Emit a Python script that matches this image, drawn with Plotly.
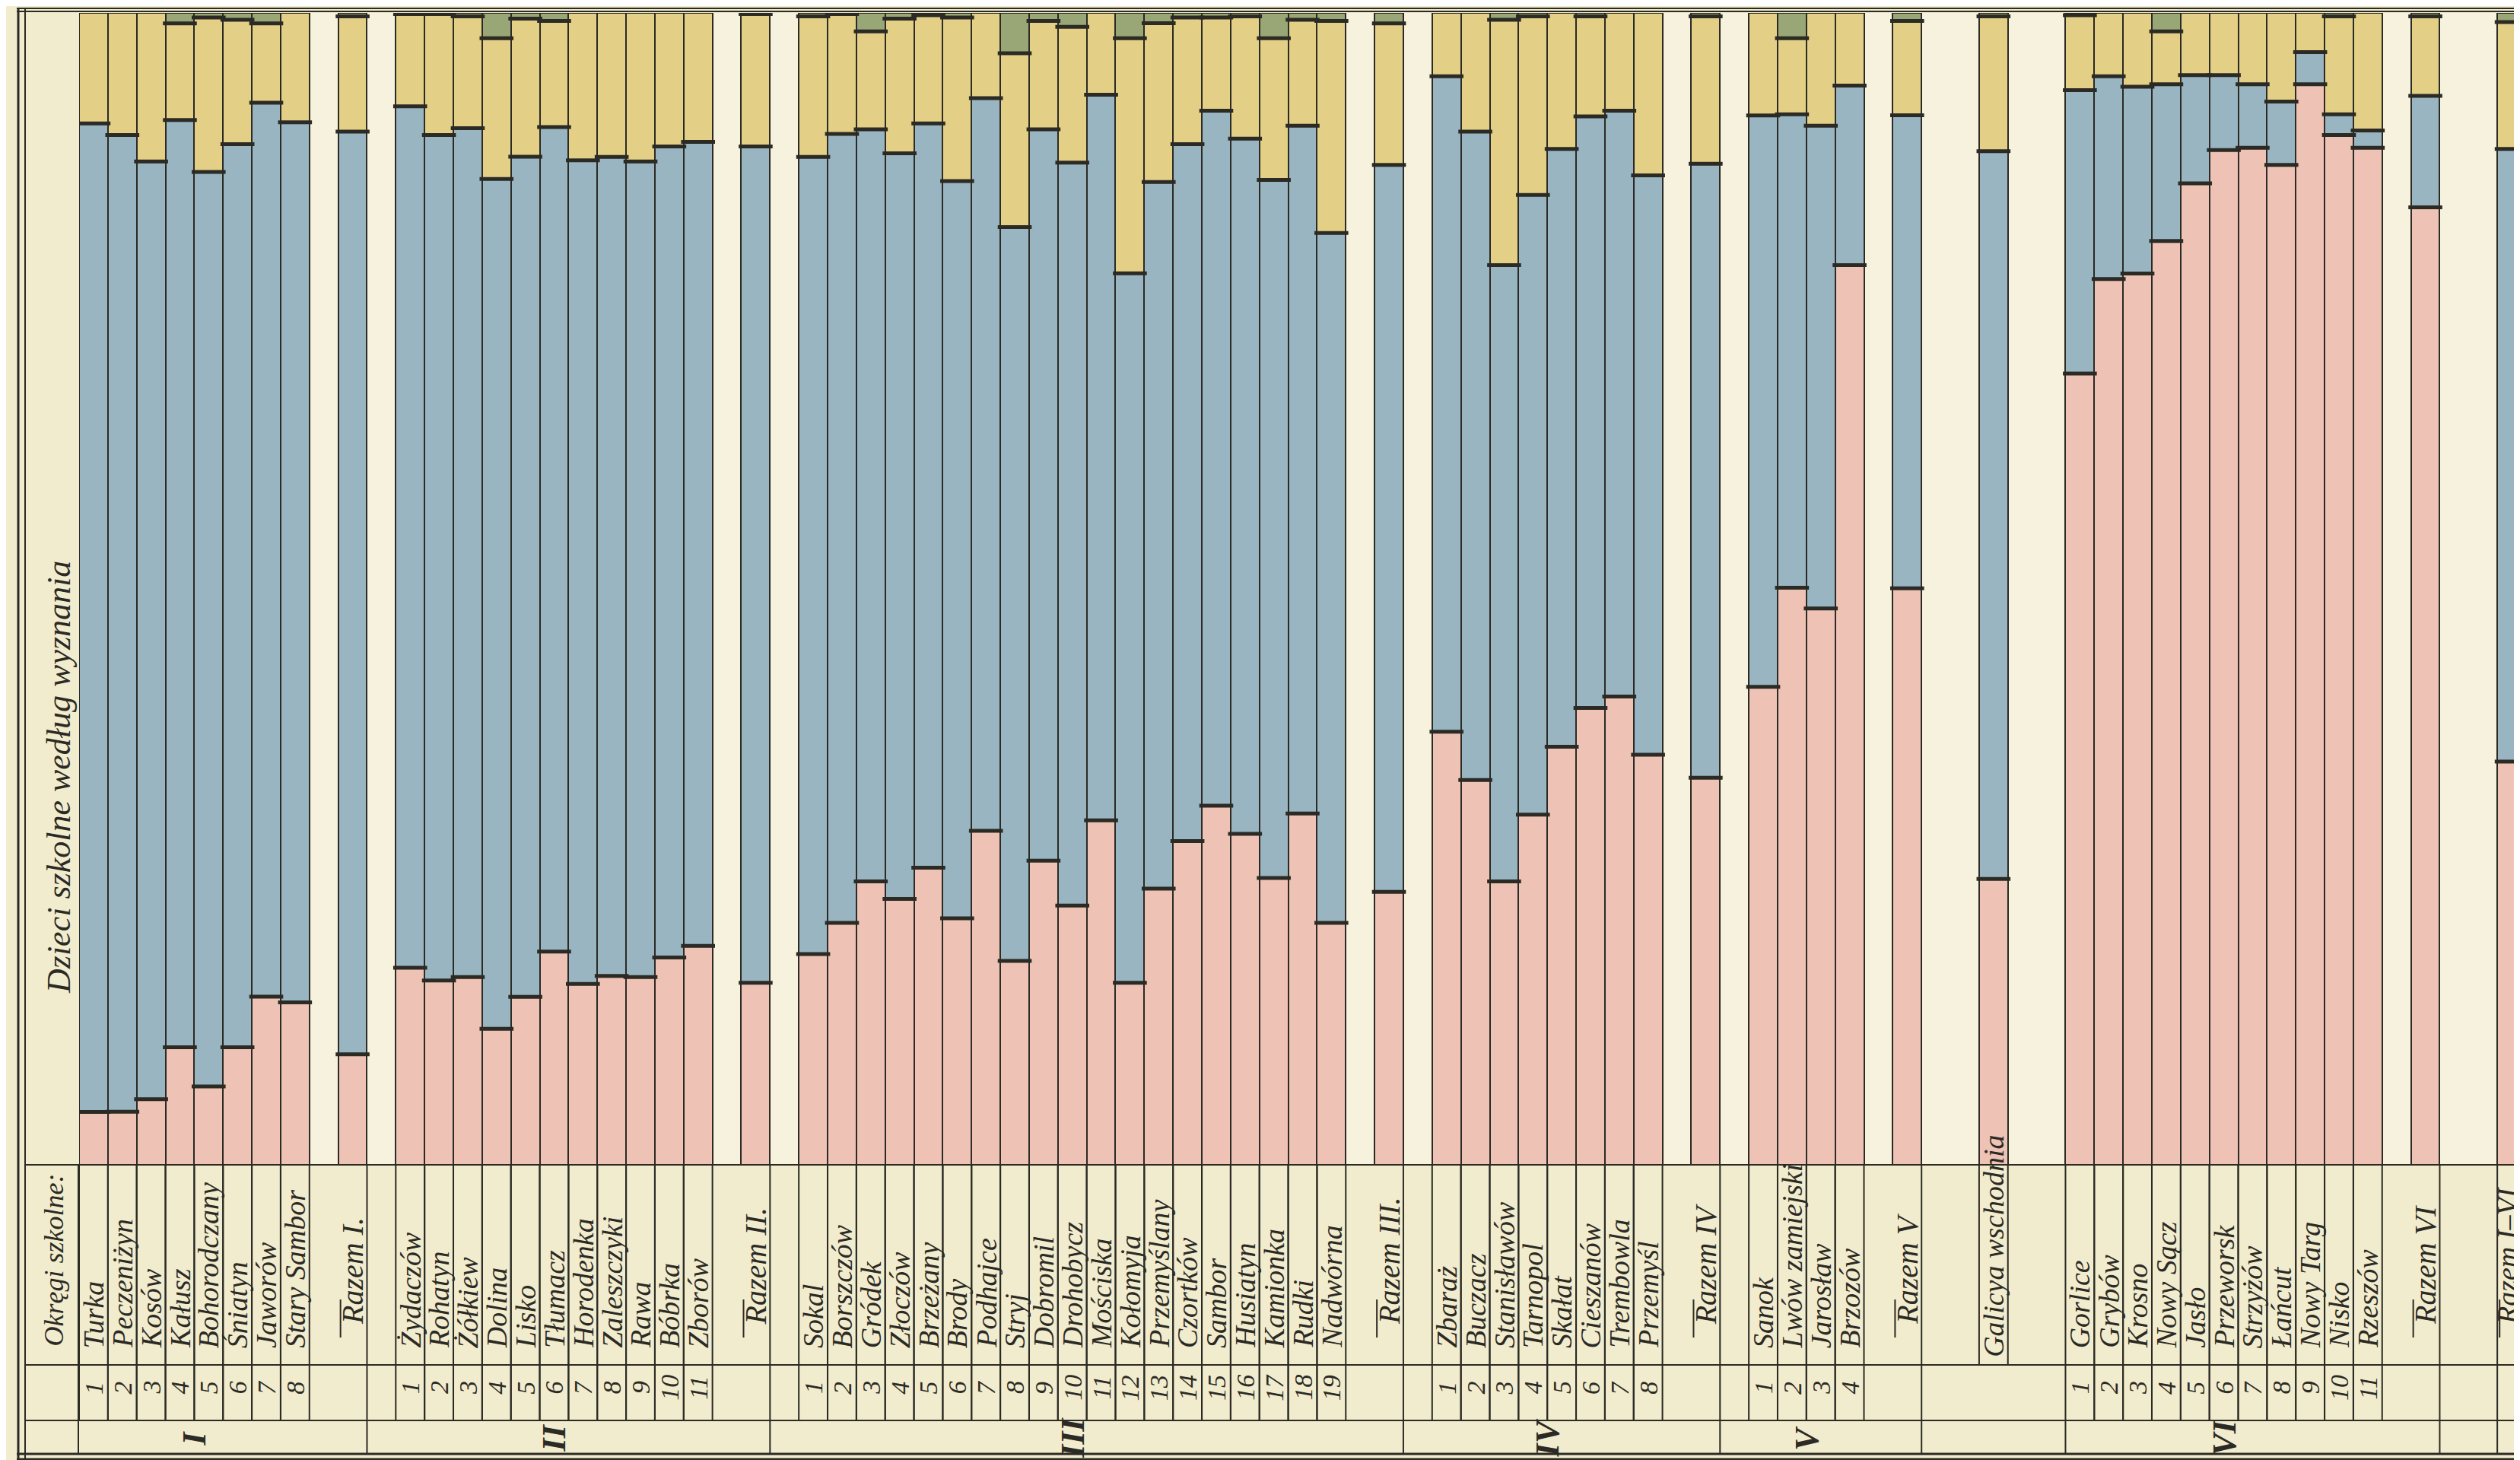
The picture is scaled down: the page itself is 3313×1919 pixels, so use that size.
import plotly.graph_objects as go

# ---------------- categories ----------------
okreg_I = ["Turka", "Peczeniżyn", "Kosów", "Kałusz", "Bohorodczany", "Śniatyn", "Jaworów", "Stary Sambor"]
okreg_II = ["Żydaczów", "Rohatyn", "Żółkiew", "Dolina", "Lisko", "Tłumacz", "Horodenka", "Zaleszczyki",
            "Rawa", "Bóbrka", "Zborów"]
okreg_III = ["Sokal", "Borszczów", "Gródek", "Złoczów", "Brzeżany", "Brody", "Podhajce", "Stryj", "Dobromil",
             "Drohobycz", "Mościska", "Kołomyja", "Przemyślany", "Czortków", "Sambor", "Husiatyn",
             "Kamionka", "Rudki", "Nadwórna"]
okreg_IV = ["Zbaraż", "Buczacz", "Stanisławów", "Tarnopol", "Skałat", "Cieszanów", "Trembowla", "Przemyśl"]
okreg_V = ["Sanok", "Lwów zamiejski", "Jarosław", "Brzozów"]
okreg_VI = ["Gorlice", "Grybów", "Krosno", "Nowy Sącz", "Jasło", "Przeworsk", "Strzyżów", "Łańcut",
            "Nowy Targ", "Nisko", "Rzeszów"]
group_numerals = ["I", "II", "III", "IV", "V", "VI"]
razem_labels = ["Razem I.", "Razem II.", "Razem III.", "Razem IV", "Razem V", "Razem VI"]
galicya_label = "Galicya wschodnia"
razem_all_label = "Razem I–VI"

# ---------------- values (% of school children), in bar order ----------------
# order: I districts, Razem I, II districts, Razem II, ..., V districts, Razem V,
#        Galicya wschodnia, VI districts, Razem VI, Razem I–VI
rzymsko_kat = [4.6, 4.6, 5.7, 10.2, 6.8, 10.2, 14.6, 14.1, 9.6,
               17.1, 16.0, 16.3, 11.8, 14.6, 18.5, 15.7, 16.4, 16.3, 18.0, 19.0, 15.8,
               18.3, 21.0, 24.6, 23.1, 25.8, 21.4, 29.0, 17.7, 26.4, 22.5, 29.9, 15.8, 24.0, 28.1,
               31.2, 28.7, 24.9, 30.5, 21.0, 23.7,
               37.6, 33.4, 24.6, 30.4, 36.3, 39.7, 40.7, 35.6, 33.6,
               41.5, 50.1, 48.3, 78.1, 50.1,
               24.8,
               68.7, 76.9, 77.3, 80.2, 85.2, 88.0, 88.3, 86.9, 93.8, 89.4, 88.3, 83.2,
               35.0]
grecko_kat = [85.9, 84.8, 81.4, 80.5, 79.4, 78.4, 77.6, 76.4, 80.1,
              74.8, 73.4, 73.7, 73.7, 73.0, 71.5, 71.5, 71.1, 70.8, 70.4, 69.8, 72.6,
              69.2, 68.5, 65.3, 64.8, 64.6, 64.0, 63.6, 63.7, 63.5, 64.5, 63.0, 61.6, 61.4, 60.5,
              60.4, 60.3, 60.6, 59.7, 59.9, 63.1,
              56.9, 56.3, 53.5, 53.8, 51.9, 51.4, 50.9, 50.3, 53.3,
              49.6, 41.1, 41.9, 15.6, 41.1,
              63.1,
              24.6, 17.6, 16.2, 13.6, 9.4, 6.5, 5.5, 5.5, 2.8, 1.8, 1.5, 9.7,
              53.2]
mojzeszowe = [9.6, 10.6, 12.9, 8.4, 13.4, 10.8, 6.9, 9.5, 10.0,
              8.0, 10.5, 9.7, 12.2, 12.0, 9.2, 12.8, 12.5, 12.9, 11.6, 11.2, 11.5,
              12.2, 10.4, 8.5, 11.7, 9.4, 14.2, 7.4, 15.1, 9.4, 11.8, 7.1, 20.4, 13.8, 11.0,
              8.1, 10.6, 12.3, 9.2, 18.4, 12.3,
              5.5, 10.3, 21.3, 15.5, 11.8, 8.7, 8.5, 14.1, 12.8,
              8.9, 6.6, 9.8, 6.3, 8.2,
              11.7,
              6.5, 5.5, 6.4, 4.6, 5.4, 5.4, 6.2, 7.7, 3.4, 8.5, 10.2, 6.9,
              11.0]
inne = [0, 0, 0, 0.9, 0.4, 0.6, 0.9, 0, 0.3,
        0.1, 0.1, 0.3, 2.2, 0.5, 0.7, 0, 0, 0, 0, 0, 0.1,
        0.3, 0.1, 1.6, 0.5, 0.2, 0.4, 0, 3.5, 0.7, 1.2, 0, 2.2, 0.9, 0.4,
        0.4, 0.3, 2.2, 0.6, 0.7, 0.9,
        0, 0, 0.6, 0.3, 0, 0.3, 0, 0, 0.3,
        0, 2.2, 0, 0, 0.7,
        0.3,
        0.2, 0, 0, 1.6, 0, 0, 0, 0, 0, 0.3, 0, 0.3,
        0.8]

# ---------------- slot layout ----------------
groups = [okreg_I, okreg_II, okreg_III, okreg_IV, okreg_V, okreg_VI]
bars = []          # (label, slot, kind, number)
group_spans = []   # (numeral, first slot, last slot)
pos = 0
for gi, names in enumerate(groups):
    start = pos
    for i, n in enumerate(names):
        bars.append((n, pos, "district", i + 1))
        pos += 1
    group_spans.append((group_numerals[gi], start, pos - 1))
    pos += 1
    bars.append((razem_labels[gi], pos, "total", None))
    pos += 1
    pos += 2 if gi >= 4 else 1
    if gi == 4:
        bars.append((galicya_label, pos, "galicya", None))
        pos += 3
bars.append((razem_all_label, pos, "total", None))
NSLOT = pos + 1
xs = [b[1] for b in bars]

# normalise each column to 100 %
tot = [a + b + c + d for a, b, c, d in zip(rzymsko_kat, grecko_kat, mojzeszowe, inne)]
pink = [v * 100 / t for v, t in zip(rzymsko_kat, tot)]
blue = [v * 100 / t for v, t in zip(grecko_kat, tot)]
yell = [v * 100 / t for v, t in zip(mojzeszowe, tot)]
gree = [v * 100 / t for v, t in zip(inne, tot)]

# ---------------- figure geometry ----------------
W, H = 3313, 1919
L, T = 96, 9
PW, PH = W - L, 1514
B = H - T - PH
INK = "#2b2a24"
PAPER = "#f2ecce"
PINK, BLUE, YELLOW, GREEN = "#eec2b4", "#99b5c1", "#e3d086", "#98a775"
FONT = "Liberation Serif"
SLOTPX = PW / NSLOT


def px_x(xpx):
    return (xpx - L) / PW


def px_y(ypx):
    return (T + PH - ypx) / PH


def slot_x(s):
    return (s + 0.5) / NSLOT


fig = go.Figure()
for name, vals, col in [("rzymsko-katolickie", pink, PINK), ("grecko-katolickie", blue, BLUE),
                        ("mojżeszowe", yell, YELLOW), ("inne", gree, GREEN)]:
    fig.add_trace(go.Bar(x=xs, y=vals, name=name, width=1.0,
                         marker=dict(color=col, line=dict(color=INK, width=2)),
                         hoverinfo="name+y"))

# thick boundary rules between segments
c1 = pink
c2 = [a + b for a, b in zip(pink, blue)]
c3x = [x for x, g in zip(xs, gree) if g > 0.05]
c3 = [a + b + c for a, b, c, g in zip(pink, blue, yell, gree) if g > 0.05]
for xx, yy in [(xs, c1), (xs, c2), (c3x, c3)]:
    fig.add_trace(go.Scatter(x=xx, y=yy, mode="markers", hoverinfo="skip", showlegend=False,
                             marker=dict(symbol="line-ew", size=SLOTPX - 6,
                                         line=dict(color=INK, width=5))))

shapes = []
ann = []


def hline(y, x0, x1, w=2):
    shapes.append(dict(type="line", xref="paper", yref="paper", x0=x0, x1=x1, y0=px_y(y), y1=px_y(y),
                       line=dict(color=INK, width=w)))


def vline(x, y0, y1, w=2):
    shapes.append(dict(type="line", xref="paper", yref="paper", x0=x, x1=x, y0=px_y(y0), y1=px_y(y1),
                       line=dict(color=INK, width=w)))


Y_BASE, Y_NUM, Y_GRP, Y_BOT = 1523, 1786, 1859, 1903

# frame
hline(3, px_x(14), 1.0, 2)
hline(7, px_x(14), 1.0, 2)
vline(px_x(16), 2, 1912, 3)
vline(px_x(25), 2, 1912, 2)
hline(Y_BOT, px_x(14), 1.0, 3)
hline(Y_BOT + 7, px_x(14), 1.0, 3)
# table rows
hline(Y_BASE, px_x(25), 1.0, 2)
hline(Y_NUM, px_x(25), 1.0, 2)
hline(Y_GRP, px_x(25), 1.0, 2)
vline(px_x(95), Y_BASE, Y_BOT)

for label, s, kind, num in bars:
    if kind == "district":
        vline(slot_x(s) - 0.5 / NSLOT, Y_BASE, Y_GRP)
        vline(slot_x(s) + 0.5 / NSLOT, Y_BASE, Y_GRP)
        ann.append(dict(x=slot_x(s), y=px_y(1766), text="<i>" + label + "</i>", textangle=-90,
                        xanchor="center", yanchor="bottom", showarrow=False,
                        font=dict(family=FONT, size=38, color=INK)))
        ann.append(dict(x=slot_x(s), y=px_y(1816), text="<i>" + str(num) + "</i>", textangle=-90,
                        xanchor="center", yanchor="middle", showarrow=False,
                        font=dict(family=FONT, size=34, color=INK)))
    elif kind == "total":
        vline(slot_x(s) + 0.5 / NSLOT, Y_BASE, Y_BOT)
        xc = slot_x(s)
        if label == razem_all_label:
            vline(slot_x(s) - 0.5 / NSLOT, Y_BASE, Y_BOT)
            xc = px_x(3288)
        # short sum rule beside the label
        vline(slot_x(s) - 0.42 / NSLOT, 1700, 1750)
        ann.append(dict(x=xc, y=px_y(1735), text="<i>" + label + "</i>", textangle=-90,
                        xanchor="center", yanchor="bottom", showarrow=False,
                        font=dict(family=FONT, size=40 if label != razem_all_label else 38, color=INK)))
    else:
        vline(slot_x(s) - 0.5 / NSLOT, Y_BASE, Y_NUM)
        vline(slot_x(s) + 0.5 / NSLOT, Y_BASE, Y_NUM)
        ann.append(dict(x=slot_x(s), y=px_y(1778), text="<i>" + label + "</i>", textangle=-90,
                        xanchor="center", yanchor="bottom", showarrow=False,
                        font=dict(family=FONT, size=38, color=INK)))

for numeral, a, b in group_spans:
    ann.append(dict(x=(slot_x(a) + slot_x(b)) / 2, y=px_y(1882), text="<b><i>" + numeral + "</i></b>",
                    textangle=-90, xanchor="center", yanchor="middle", showarrow=False,
                    font=dict(family=FONT, size=44, color=INK)))
vline(slot_x(group_spans[5][1]) - 0.5 / NSLOT, Y_GRP, Y_BOT)

ann.append(dict(x=px_x(70), y=px_y(1014), xref="paper", yref="paper",
                text="<i>Dzieci szkolne według wyznania</i>", textangle=-90, showarrow=False,
                xanchor="center", yanchor="middle", font=dict(family=FONT, size=44, color=INK)))
ann.append(dict(x=px_x(62), y=px_y(1764), text="<i>Okręgi szkolne:</i>", textangle=-90,
                xanchor="center", yanchor="bottom", showarrow=False,
                font=dict(family=FONT, size=36, color=INK)))
for a_ in ann:
    a_.setdefault("xref", "paper")
    a_.setdefault("yref", "paper")

fig.update_layout(
    width=W, height=H, autosize=False,
    margin=dict(l=L, r=0, t=T, b=B, pad=0),
    barmode="stack", bargap=0, showlegend=False,
    paper_bgcolor=PAPER, plot_bgcolor="#f6f2de",
    xaxis=dict(range=[-0.5, NSLOT - 0.5], showticklabels=False, showgrid=False, zeroline=False,
               ticks="", fixedrange=True),
    yaxis=dict(range=[0, 100], showticklabels=False, showgrid=False, zeroline=False, ticks="",
               fixedrange=True),
    shapes=shapes, annotations=ann,
)

fig.write_html("out.html")
